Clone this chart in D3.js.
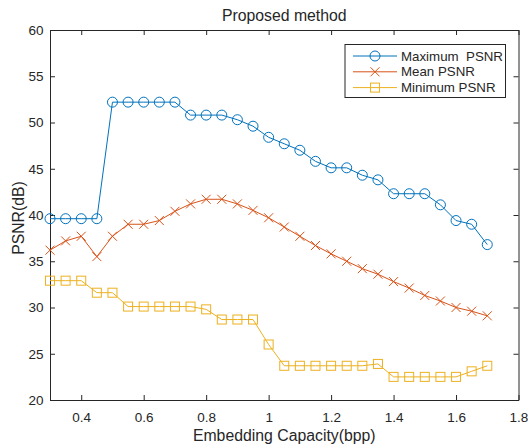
<!DOCTYPE html>
<html>
<head>
<meta charset="utf-8">
<script src="https://cdn.jsdelivr.net/npm/d3@7"></script>
<style>
  body { margin: 0; background: #fff; }
  text { font-family: "Liberation Sans", Arial, sans-serif; fill: #262626; }
</style>
</head>
<body>
<div id="chart"></div>
<script>
const capacity = [0.3, 0.35, 0.4, 0.45, 0.5, 0.55, 0.6, 0.65, 0.7, 0.75, 0.8, 0.85, 0.9, 0.95, 1.0,
    1.05, 1.1, 1.15, 1.2, 1.25, 1.3, 1.35, 1.4, 1.45, 1.5, 1.55, 1.6, 1.65, 1.7];
const maxPSNR = [39.6, 39.6, 39.6, 39.6, 52.2, 52.2, 52.2, 52.2, 52.2, 50.8, 50.8, 50.8, 50.3, 49.6, 48.4,
    47.7, 47.0, 45.8, 45.1, 45.1, 44.3, 43.8, 42.3, 42.3, 42.3, 41.1, 39.4, 39.0, 36.8];
const meanPSNR = [36.2, 37.2, 37.7, 35.5, 37.7, 39.0, 39.0, 39.4, 40.4, 41.2, 41.7, 41.7, 41.2, 40.5, 39.7,
    38.7, 37.7, 36.7, 35.8, 35.0, 34.2, 33.6, 32.8, 32.1, 31.3, 30.7, 30.0, 29.6, 29.1];
const minPSNR = [32.9, 32.9, 32.9, 31.6, 31.6, 30.1, 30.1, 30.1, 30.1, 30.1, 29.8, 28.7, 28.7, 28.7, 26.0,
    23.7, 23.7, 23.7, 23.7, 23.7, 23.7, 23.9, 22.5, 22.5, 22.5, 22.5, 22.5, 23.1, 23.7];
const seriesNames = ['Maximum  PSNR', 'Mean PSNR', 'Minimum PSNR'];
const xTicks = [0.4, 0.6, 0.8, 1, 1.2, 1.4, 1.6, 1.8];
const yTicks = [20, 25, 30, 35, 40, 45, 50, 55, 60];

const W = 528, H = 446;
const pLeft = 50, pRight = 518.5, pTop = 30, pBottom = 400;

const svg = d3.select('#chart').append('svg').attr('width', W).attr('height', H);

const x = d3.scaleLinear().domain([0.3, 1.8]).range([pLeft, pRight]);
const y = d3.scaleLinear().domain([20, 60]).range([pBottom, pTop]);

// axes with inward ticks on all four sides
const tk = 5;
svg.append('g').attr('transform', `translate(0,${pBottom})`)
    .call(d3.axisBottom(x).tickValues(xTicks).tickFormat(d3.format('')).tickSizeInner(-tk).tickSizeOuter(0).tickPadding(12));
svg.append('g').attr('transform', `translate(0,${pTop})`)
    .call(d3.axisTop(x).tickValues(xTicks).tickFormat('').tickSizeInner(-tk).tickSizeOuter(0));
svg.append('g').attr('transform', `translate(${pLeft},0)`)
    .call(d3.axisLeft(y).tickValues(yTicks).tickSizeInner(-tk).tickSizeOuter(0).tickPadding(6.5));
svg.append('g').attr('transform', `translate(${pRight},0)`)
    .call(d3.axisRight(y).tickValues(yTicks).tickFormat('').tickSizeInner(-tk).tickSizeOuter(0));
svg.selectAll('.domain, .tick line').attr('stroke', '#262626');
svg.selectAll('.tick text').style('font-size', '13.5px').attr('fill', '#262626');

svg.append('text').attr('x', (pLeft + pRight) / 2).attr('y', 21).attr('text-anchor', 'middle')
    .style('font-size', '15.8px').text('Proposed method');
svg.append('text').attr('x', (pLeft + pRight) / 2).attr('y', 441).attr('text-anchor', 'middle')
    .style('font-size', '15.8px').text('Embedding Capacity(bpp)');
svg.append('text').attr('transform', `translate(23.5,218) rotate(-90)`).attr('text-anchor', 'middle')
    .style('font-size', '15.8px').text('PSNR(dB)');

const colors = ['#0072BD', '#D95319', '#EDB120'];
const series = [maxPSNR, meanPSNR, minPSNR];
const markers = ['circle', 'cross', 'square'];

function drawMarker(g, type, cx, cy, color) {
    if (type === 'circle') {
        g.append('circle').attr('cx', cx).attr('cy', cy).attr('r', 5)
            .attr('fill', 'none').attr('stroke', color).attr('stroke-width', 1);
    } else if (type === 'cross') {
        const s = 4.5;
        g.append('path').attr('d', `M${cx - s},${cy - s}L${cx + s},${cy + s}M${cx - s},${cy + s}L${cx + s},${cy - s}`)
            .attr('stroke', color).attr('stroke-width', 1).attr('fill', 'none');
    } else {
        g.append('rect').attr('x', cx - 4.5).attr('y', cy - 4.5).attr('width', 9).attr('height', 9)
            .attr('fill', 'none').attr('stroke', color).attr('stroke-width', 1);
    }
}

const line = d3.line().x((d, i) => x(capacity[i])).y(d => y(d));

series.forEach((vals, k) => {
    const g = svg.append('g');
    g.append('path').datum(vals).attr('d', line).attr('fill', 'none')
        .attr('stroke', colors[k]).attr('stroke-width', 1);
    vals.forEach((v, i) => drawMarker(g, markers[k], x(capacity[i]), y(v), colors[k]));
});

// legend
const lg = svg.append('g');
lg.append('rect').attr('x', 345).attr('y', 44.5).attr('width', 160.5).attr('height', 53)
    .attr('fill', '#fff').attr('stroke', '#262626').attr('stroke-width', 1);
seriesNames.forEach((name, k) => {
    const ly = 56 + k * 15.8;
    lg.append('line').attr('x1', 353).attr('x2', 397).attr('y1', ly).attr('y2', ly)
        .attr('stroke', colors[k]).attr('stroke-width', 1);
    drawMarker(lg, markers[k], 375, ly, colors[k]);
    lg.append('text').attr('x', 401).attr('y', ly + 4.5).style('font-size', '13.3px')
        .style('white-space', 'pre').text(name);
});
</script>
</body>
</html>
